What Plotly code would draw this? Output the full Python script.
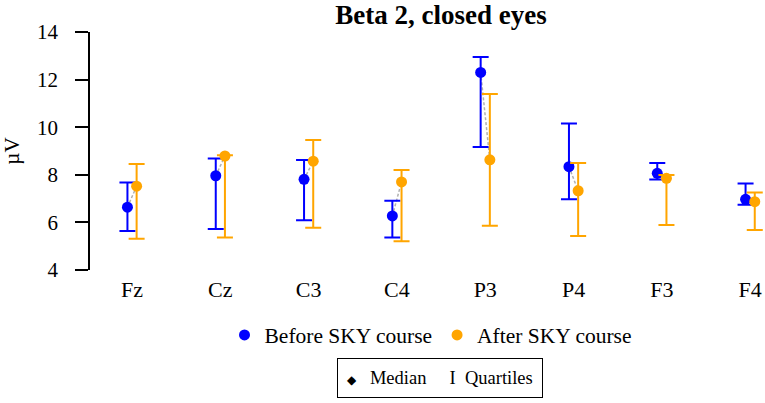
import plotly.graph_objects as go

channels = ["Fz", "Cz", "C3", "C4", "P3", "P4", "F3", "F4"]
before_median = [6.64, 7.96, 7.81, 6.27, 12.30, 8.34, 8.06, 6.97]
before_q1 = [5.64, 5.72, 6.09, 5.37, 9.17, 6.97, 7.80, 6.74]
before_q3 = [7.68, 8.69, 8.62, 6.91, 12.95, 10.16, 8.50, 7.63]
after_median = [7.52, 8.79, 8.57, 7.70, 8.63, 7.33, 7.85, 6.87]
after_q1 = [5.31, 5.37, 5.78, 5.21, 5.86, 5.43, 5.89, 5.68]
after_q3 = [8.45, 8.82, 9.46, 8.20, 11.40, 8.50, 7.99, 7.26]
y_ticks = [4, 6, 8, 10, 12, 14]

BLUE = "#0000FF"
ORANGE = "#FFA500"
FONT = "Liberation Serif, Times New Roman, serif"
d = 0.052
W, H = 765, 403

pos = list(range(1, len(channels) + 1))
xb = [p - d for p in pos]
xa = [p + d for p in pos]

fig = go.Figure()

lx, ly = [], []
for i in range(len(channels)):
    lx += [xb[i], xa[i], None]
    ly += [before_median[i], after_median[i], None]
fig.add_trace(go.Scatter(x=lx, y=ly, mode="lines", showlegend=False,
                         line=dict(color="#B0B0B0", width=1.5, dash="3px,2px"),
                         hoverinfo="skip"))

fig.add_trace(go.Scatter(
    x=xb, y=before_median, mode="markers", name="Before SKY course",
    marker=dict(color=BLUE, size=11),
    error_y=dict(type="data", symmetric=False,
                 array=[q - m for q, m in zip(before_q3, before_median)],
                 arrayminus=[m - q for q, m in zip(before_q1, before_median)],
                 color=BLUE, thickness=2, width=8)))
fig.add_trace(go.Scatter(
    x=xa, y=after_median, mode="markers", name="After SKY course",
    marker=dict(color=ORANGE, size=11),
    error_y=dict(type="data", symmetric=False,
                 array=[q - m for q, m in zip(after_q3, after_median)],
                 arrayminus=[m - q for q, m in zip(after_q1, after_median)],
                 color=ORANGE, thickness=2, width=8)))

fig.update_layout(
    width=W, height=H, autosize=False,
    margin=dict(l=90, r=0, t=32, b=H - 270, pad=0),
    paper_bgcolor="white", plot_bgcolor="white",
    font=dict(family=FONT, color="black"),
    title=dict(text="<b>Beta 2, closed eyes</b>", font=dict(size=27, family=FONT),
               xref="container", x=441 / W, xanchor="center",
               yref="container", y=1 - 15 / H, yanchor="middle"),
    showlegend=True,
    legend=dict(orientation="h", xref="container", x=431 / W, xanchor="center",
                yref="container", y=1 - 335 / H, yanchor="middle",
                font=dict(size=21.5, family=FONT), bgcolor="rgba(0,0,0,0)",
                itemclick=False),
    xaxis=dict(range=[0.524, 8.168], tickvals=pos, ticktext=channels,
               showline=False, showgrid=False, zeroline=False, ticks="",
               tickfont=dict(size=22, family=FONT), ticklabelstandoff=4),
    yaxis=dict(range=[4, 14], tickvals=y_ticks, showline=True, linecolor="black",
               linewidth=1.5, ticks="outside", ticklen=13, tickwidth=1.5,
               tickcolor="black", showgrid=False, zeroline=False,
               tickfont=dict(size=21, family=FONT), ticklabelstandoff=13,
               title=dict(text="µV", font=dict(size=21, family=FONT), standoff=17)),
)

fig.add_annotation(
    text="<span style='font-size:12px'>◆</span>\u00a0\u00a0\u00a0Median\u00a0\u00a0\u00a0\u00a0\u00a0I\u00a0\u00a0Quartiles",
    xref="paper", yref="paper", x=(440 - 90) / 675, y=-(378 - 270) / 238,
    xanchor="center", yanchor="middle", showarrow=False,
    font=dict(size=18.5, family=FONT, color="black"),
    bordercolor="black", borderwidth=1, borderpad=9, bgcolor="white")

fig.write_html("out.html", config={"displayModeBar": False},
               post_script="document.body.style.margin='0px';")
